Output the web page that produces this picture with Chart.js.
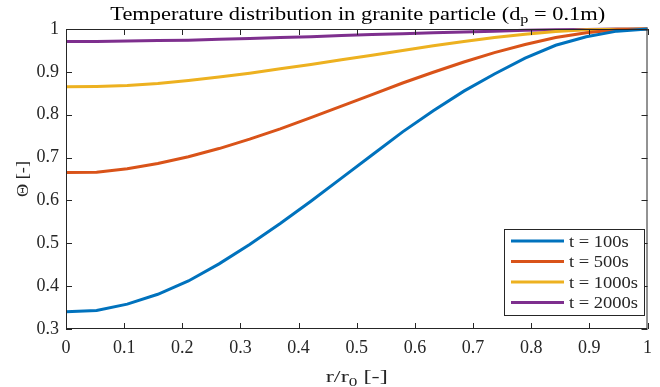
<!DOCTYPE html>
<html>
<head>
<meta charset="utf-8">
<script src="https://cdn.jsdelivr.net/npm/chart.js@4.4.1/dist/chart.umd.min.js"></script>
<style>
  html, body { margin: 0; padding: 0; background: #fff; }
  #wrap { width: 660px; height: 387px; }
</style>
</head>
<body>
<div id="wrap"><canvas id="chart"></canvas></div>
<script>
// ── Data ─────────────────────────────────────────────────────────────────────
const radius = [0, 0.0526, 0.1053, 0.1579, 0.2105, 0.2632, 0.3158, 0.3684, 0.4211, 0.4737,
                0.5263, 0.5789, 0.6316, 0.6842, 0.7368, 0.7895, 0.8421, 0.8947, 0.9474, 1];

const theta100  = [0.340, 0.343, 0.358, 0.381, 0.412, 0.452, 0.497, 0.546, 0.598, 0.652,
                   0.706, 0.760, 0.809, 0.855, 0.895, 0.932, 0.962, 0.982, 0.995, 1.0];
const theta500  = [0.665, 0.666, 0.674, 0.686, 0.702, 0.721, 0.743, 0.767, 0.793, 0.820,
                   0.847, 0.874, 0.899, 0.923, 0.945, 0.964, 0.980, 0.991, 0.998, 1.0];
const theta1000 = [0.865, 0.866, 0.868, 0.873, 0.880, 0.888, 0.897, 0.907, 0.917, 0.928,
                   0.939, 0.950, 0.961, 0.971, 0.980, 0.988, 0.994, 0.998, 0.9995, 1.0];
const theta2000 = [0.971, 0.971, 0.972, 0.973, 0.974, 0.976, 0.978, 0.980, 0.982, 0.985,
                   0.987, 0.989, 0.991, 0.993, 0.995, 0.997, 0.998, 0.999, 1.0, 1.0];

const seriesLabels = ['t = 100s', 't = 500s', 't = 1000s', 't = 2000s'];
const seriesColors = ['#0072BD', '#D95319', '#EDB120', '#7E2F8E'];

const FONT = '"Liberation Serif", "DejaVu Serif", serif';
const INK  = '#262626';

// ── Text helpers (Times is narrower than the LaTeX font, so stretch a bit) ───
// parts: [[text, isSub], ...]; drawn so the whole run is `width` px wide, centred on x
function runText(ctx, parts, x, y, size, width) {
  const subSize = Math.round(size * 0.7);
  const widths = parts.map(([t, sub]) => {
    ctx.font = (sub ? subSize : size) + 'px ' + FONT;
    return ctx.measureText(t).width;
  });
  const natural = widths.reduce((a, b) => a + b, 0);
  const sx = width / natural;
  ctx.save();
  ctx.translate(x - width / 2, y);
  ctx.scale(sx, 1);
  ctx.textAlign = 'left';
  ctx.textBaseline = 'alphabetic';
  let cur = 0;
  parts.forEach(([t, sub], i) => {
    ctx.font = (sub ? subSize : size) + 'px ' + FONT;
    ctx.fillText(t, cur, sub ? size * 0.22 : 0);
    cur += widths[i];
  });
  ctx.restore();
}

// ── MATLAB-ish axes box, inward ticks, title, labels, legend ─────────────────
const matlabLook = {
  id: 'matlabLook',
  afterDatasetsDraw(chart) {
    const { ctx, chartArea: a, scales } = chart;
    ctx.save();
    ctx.strokeStyle = INK;
    ctx.lineWidth = 1;
    ctx.strokeRect(a.left + 0.5, a.top + 0.5, a.right - a.left - 1, a.bottom - a.top - 1);

    const tl = 6;
    ctx.beginPath();
    scales.x.ticks.forEach(t => {
      const px = Math.round(scales.x.getPixelForValue(t.value)) + 0.5;
      ctx.moveTo(px, a.bottom); ctx.lineTo(px, a.bottom - tl);
      ctx.moveTo(px, a.top);    ctx.lineTo(px, a.top + tl);
    });
    scales.y.ticks.forEach(t => {
      const py = Math.round(scales.y.getPixelForValue(t.value)) + 0.5;
      ctx.moveTo(a.left, py);  ctx.lineTo(a.left + tl, py);
      ctx.moveTo(a.right, py); ctx.lineTo(a.right - tl, py);
    });
    ctx.stroke();

    // legend box
    const lx = 504, ly = 229, lw = 140, lh = 86;
    ctx.fillStyle = '#fff';
    ctx.fillRect(lx, ly, lw, lh);
    ctx.strokeRect(lx + 0.5, ly + 0.5, lw, lh);
    ctx.font = '16px ' + FONT;
    const legScale = 69 / ctx.measureText('t = 1000s').width;
    seriesLabels.forEach((lab, i) => {
      const y = ly + 12 + i * 20.5;
      ctx.strokeStyle = seriesColors[i];
      ctx.lineWidth = 3;
      ctx.beginPath();
      ctx.moveTo(lx + 7, y); ctx.lineTo(lx + 60, y);
      ctx.stroke();
      ctx.fillStyle = INK;
      ctx.font = '16px ' + FONT;
      const w = ctx.measureText(lab).width * legScale;
      runText(ctx, [[lab, false]], lx + 65 + w / 2, y + 5.5, 16, w);
    });
    ctx.restore();
  },
  afterDraw(chart) {
    const { ctx, chartArea: a } = chart;
    const cx = (a.left + a.right) / 2;
    ctx.save();
    ctx.fillStyle = '#000';
    runText(ctx, [['Temperature distribution in granite particle (d', false], ['p', true], [' = 0.1m)', false]],
            cx + 1, 19.5, 18, 495);
    ctx.fillStyle = INK;
    runText(ctx, [['r/r', false], ['0', true], [' [-]', false]], cx, 382, 17, 62);

    ctx.translate(28, (a.top + a.bottom) / 2);
    ctx.rotate(-Math.PI / 2);
    runText(ctx, [['\u0398 [-]', false]], 0, 0, 17, 36);
    ctx.restore();
  }
};

const datasets = [theta100, theta500, theta1000, theta2000].map((vals, i) => ({
  label: seriesLabels[i],
  data: radius.map((r, k) => ({ x: r, y: vals[k] })),
  borderColor: seriesColors[i],
  borderWidth: 3,
  pointRadius: 0,
  tension: 0,
  clip: 4,
}));

const fmt = v => String(Number(v.toFixed(1)));

new Chart(document.getElementById('chart'), {
  type: 'line',
  data: { datasets },
  options: {
    responsive: true, maintainAspectRatio: false, animation: false,
    layout: { padding: { top: 29, right: 3, left: 0, bottom: 0 } },
    plugins: { legend: { display: false }, tooltip: { enabled: false } },
    scales: {
      x: {
        type: 'linear', min: 0, max: 1,
        afterFit: s => { s.height = 58; },
        grid: { display: false, drawTicks: false },
        border: { display: false },
        ticks: { stepSize: 0.1, color: INK, padding: 8, maxRotation: 0,
                 font: { family: FONT, size: 18 }, callback: fmt },
      },
      y: {
        type: 'linear', min: 0.3, max: 1,
        afterFit: s => { s.width = 66; },
        grid: { display: false, drawTicks: false },
        border: { display: false },
        ticks: { stepSize: 0.1, color: INK, padding: 7,
                 font: { family: FONT, size: 18 }, callback: fmt },
      },
    },
  },
  plugins: [matlabLook],
});
</script>
</body>
</html>
